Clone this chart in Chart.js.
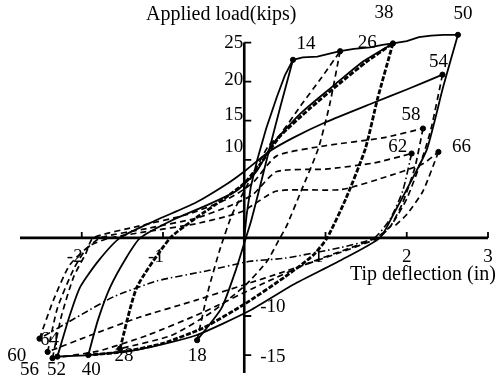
<!DOCTYPE html>
<html><head><meta charset="utf-8">
<script src="https://cdn.jsdelivr.net/npm/chart.js@4/dist/chart.umd.min.js"></script>
<style>html,body{margin:0;padding:0;background:#fff}canvas{display:block}</style>
</head><body>
<canvas id="c" width="500" height="378"></canvas>
<script>
// ---- axis / tick data ----
const xTicks = [-2, -1, 1, 2, 3];
const yTicks = [25, 20, 15, 10, -10, -15];
const xTitle = 'Tip deflection (in)';
const yTitle = 'Applied load(kips)';

// ---- peak points (deflection in, load kips) ----
const P14 = [0.60, 22.8], P18 = [-0.58, -13.1], P26 = [1.18, 23.9], P28 = [-1.53, -14.2];
const P38 = [1.83, 24.9], P40 = [-1.92, -15.0], P50 = [2.63, 26.0], P52 = [-2.30, -15.2];
const P54 = [2.44, 20.9], P56 = [-2.36, -15.4], P58 = [2.20, 14.0], P60 = [-2.42, -14.6];
const P62 = [2.06, 10.8], P64 = [-2.52, -12.9], P66 = [2.39, 11.0];
const peakNames = ['14','18','26','28','38','40','50','52','54','56','58','60','62','64','66'];
const peakPoints = [P14,P18,P26,P28,P38,P40,P50,P52,P54,P56,P58,P60,P62,P64,P66];

// ---- load-path branches ----
const envelope = [[0,0],[0.03,3],[0.08,6.5],[0.16,10],[0.27,14],[0.4,18],[0.5,20.8],P14,[0.72,23.1],[0.9,23.2],[1.05,23.6],P26,[1.35,24.2],[1.55,24.4],[1.7,24.7],P38,[2.0,25.2],[2.15,25.7],[2.3,25.9],[2.45,26.0],P50];
const b14_18 = [P14,[0.45,17],[0.3,11],[0.18,6],[0.08,2],[0.02,0],[-0.1,-4],[-0.28,-9],P18];
const b18_26 = [P18,[-0.45,-7],[-0.3,-1.5],[-0.15,3],[0,6],[0.15,9],[0.3,11.8],[0.44,13.2],[0.7,17],[0.95,20.5],P26];
const b26_28 = [P26,[1.05,17],[0.91,11.4],[0.7,6],[0.52,1.5],[0.44,0],[0.28,-3],[0,-6.2],[-0.4,-9.5],[-0.9,-12.5],P28];
const b28_38 = [P28,[-1.32,-6.3],[-0.91,0],[-0.6,2.5],[-0.25,5],[0,7],[0.2,9.5],[0.44,13],[0.8,16.5],[1.2,20],[1.5,22.5],P38];
const b38_40 = [P38,[1.64,17.8],[1.49,11.4],[1.25,5],[1.02,0],[0.85,-2.2],[0.5,-5],[0,-8.5],[-0.5,-11.5],[-1.0,-13.5],[-1.5,-14.6],P40];
const b40_50 = [P40,[-1.8,-10.5],[-1.65,-6.3],[-1.45,-2.5],[-1.28,0],[-0.9,2.2],[-0.5,4],[-0.1,6],[0.15,8.5],[0.35,12],[0.7,16],[1.1,19.5],[1.45,22.5],P38];
const b50_52 = [P50,[2.45,19.4],[2.25,11.4],[2.04,7],[1.83,2.9],[1.67,0],[1.2,-2.8],[0.6,-6],[0.07,-9.3],[-0.6,-12.5],[-1.3,-14.3],[-1.92,-15],P52];
const b52_54 = [P52,[-2.15,-10],[-2.02,-6.3],[-1.8,-3],[-1.53,0],[-1.1,2.2],[-0.6,4.5],[-0.2,7],[0,8.5],[0.3,11],[0.6,12.8],[1.0,14.8],[1.59,17.3],[2.0,19],P54];
const b54_56 = [P54,[2.3,14],[2.2,10.5],[2.0,5],[1.8,1.5],[1.62,0],[1.3,-1.3],[0.8,-3.2],[0.2,-6],[-0.5,-9.5],[-1.2,-12.5],[-1.8,-14.5],P56];
const b56_58 = [P56,[-2.25,-10],[-2.1,-5],[-1.95,-2],[-1.86,0],[-1.3,1.5],[-0.7,3],[-0.2,5],[0.1,7],[0.4,10.5],[1.0,11.8],[1.7,12.8],P58];
const b58_60 = [P58,[2.1,9],[1.95,4.5],[1.8,1.5],[1.65,0],[1.2,-1.8],[0.5,-4.3],[0,-6],[-0.6,-8],[-1.3,-10.2],[-1.9,-12.5],P60];
const b60_62 = [P60,[-2.3,-9],[-2.1,-4],[-1.95,-1.5],[-1.77,0],[-1.2,1.2],[-0.6,2.5],[-0.2,4],[0.1,5.5],[0.4,8.5],[1.0,8.8],[1.6,9.6],P62];
const b62_64 = [P62,[1.95,6],[1.8,2.5],[1.6,0],[1.2,-1.2],[0.5,-2.6],[0.07,-3],[-0.5,-4.3],[-1.07,-5.5],[-1.6,-7.5],[-2.0,-9.8],P64];
const b64_66 = [P64,[-2.35,-8],[-2.15,-3.5],[-1.9,-1],[-1.65,0],[-1.2,0.8],[-0.6,1.8],[-0.2,2.8],[0,3.5],[0.4,6],[1.2,6.2],[1.8,8],[2.2,9.5],P66];
const b66_end = [P66,[2.2,6],[2.0,3],[1.85,1.5]];

// ---- styles ----
const SOLID = {borderWidth:1.8, borderDash:[]};
const DASH = {borderWidth:1.7, borderDash:[6,4]};
const DASHDOT = {borderWidth:1.6, borderDash:[7,3,1.5,3]};
const HEAVY = {borderWidth:2.8, borderDash:[5,1.8]};

const branches = [
  [envelope, SOLID, 0], [b14_18, SOLID, 0.2], [b18_26, DASH, 0.2], [b26_28, DASH, 0.2],
  [b28_38, HEAVY, 0.2], [b38_40, HEAVY, 0.2], [b40_50, SOLID, 0.2], [b50_52, SOLID, 0.2],
  [b52_54, SOLID, 0.2], [b54_56, DASH, 0.2], [b56_58, DASH, 0.2], [b58_60, DASH, 0.2],
  [b60_62, DASH, 0.2], [b62_64, DASHDOT, 0.2], [b64_66, DASH, 0.2], [b66_end, DASH, 0.2]
];

const toXY = arr => arr.map(p => ({x:p[0], y:p[1]}));
const datasets = branches.map(([pts, st, t]) => ({
  data: toXY(pts), showLine:true, borderColor:'#000', backgroundColor:'#000',
  borderWidth: st.borderWidth, borderDash: st.borderDash, pointRadius:0, tension:t, fill:false
}));
datasets.push({data: toXY(peakPoints), showLine:false, pointRadius:2.6, backgroundColor:'#000', borderColor:'#000'});

// label pixel offsets (style only)
const peakLabelOffset = {'14':[13,-16],'26':[27,-8],'38':[-9,-30],'50':[5,-21],'54':[-4,-13],'58':[-12,-14],
  '62':[-14,-7],'66':[23,-5],'18':[0,16],'28':[4,7],'40':[3,15],'52':[-1,13],'56':[-23,12],'60':[-31,4],'64':[10,1]};
const yLabelNudge = {'25':0,'20':-2,'15':-6,'10':-13,'-10':-9,'-15':2};

const FONT = '19px "Liberation Serif", "DejaVu Serif", serif';
const TITLE_FONT = '20px "Liberation Serif", "DejaVu Serif", serif';

const overlay = {
  id:'overlay',
  beforeDatasetsDraw(chart){
    const {ctx, scales:{x, y}} = chart;
    const x0 = x.getPixelForValue(0), y0 = y.getPixelForValue(0);
    ctx.save();
    ctx.strokeStyle = '#000'; ctx.lineWidth = 2.6; ctx.lineCap = 'butt';
    ctx.beginPath();
    ctx.moveTo(x.getPixelForValue(x.min), y0); ctx.lineTo(x.getPixelForValue(3), y0);
    ctx.moveTo(x0, y.getPixelForValue(25)); ctx.lineTo(x0, y.getPixelForValue(y.min));
    ctx.stroke();
    ctx.lineWidth = 1.8;
    ctx.beginPath();
    xTicks.forEach(v => { const px = x.getPixelForValue(v); ctx.moveTo(px, y0); ctx.lineTo(px, y0 - 6); });
    yTicks.forEach(v => { const py = y.getPixelForValue(v); ctx.moveTo(x0, py); ctx.lineTo(x0 + 7, py); });
    ctx.stroke();
    ctx.restore();
  },
  afterDatasetsDraw(chart){
    const {ctx, scales:{x, y}} = chart;
    const x0 = x.getPixelForValue(0), y0 = y.getPixelForValue(0);
    ctx.save();
    ctx.fillStyle = '#000'; ctx.font = FONT;
    // x tick labels
    ctx.textAlign = 'center'; ctx.textBaseline = 'alphabetic';
    xTicks.forEach(v => {
      const px = x.getPixelForValue(v) - (v < 0 ? 7 : (v === 1 ? 7 : 0));
      ctx.fillText(String(v), px, y0 + 24);
    });
    // y tick labels
    ctx.textBaseline = 'middle';
    yTicks.forEach(v => {
      const py = y.getPixelForValue(v) + (yLabelNudge[String(v)] || 0);
      if (v > 0) { ctx.textAlign = 'right'; ctx.fillText(String(v), x0 - 1, py); }
      else { ctx.textAlign = 'left'; ctx.fillText(String(v), x0 + 16, py); }
    });
    // peak labels
    ctx.textAlign = 'center';
    peakNames.forEach((n, i) => {
      const p = peakPoints[i], o = peakLabelOffset[n];
      ctx.fillText(n, x.getPixelForValue(p[0]) + o[0], y.getPixelForValue(p[1]) + o[1]);
    });
    // axis titles
    ctx.font = TITLE_FONT;
    ctx.textAlign = 'left'; ctx.textBaseline = 'alphabetic';
    ctx.fillText(yTitle, 146, 20);
    ctx.fillText(xTitle, 350, 280);
    ctx.restore();
  }
};

new Chart(document.getElementById('c'), {
  type:'scatter',
  data:{datasets},
  options:{
    responsive:false, animation:false, devicePixelRatio:1,
    layout:{padding:{left:20, right:12, top:27, bottom:2}},
    plugins:{legend:{display:false}, tooltip:{enabled:false}},
    scales:{
      x:{type:'linear', min:-2.76, max:3.0, display:false},
      y:{type:'linear', min:-17.3, max:27, display:false}
    }
  },
  plugins:[overlay]
});
</script>
</body></html>
